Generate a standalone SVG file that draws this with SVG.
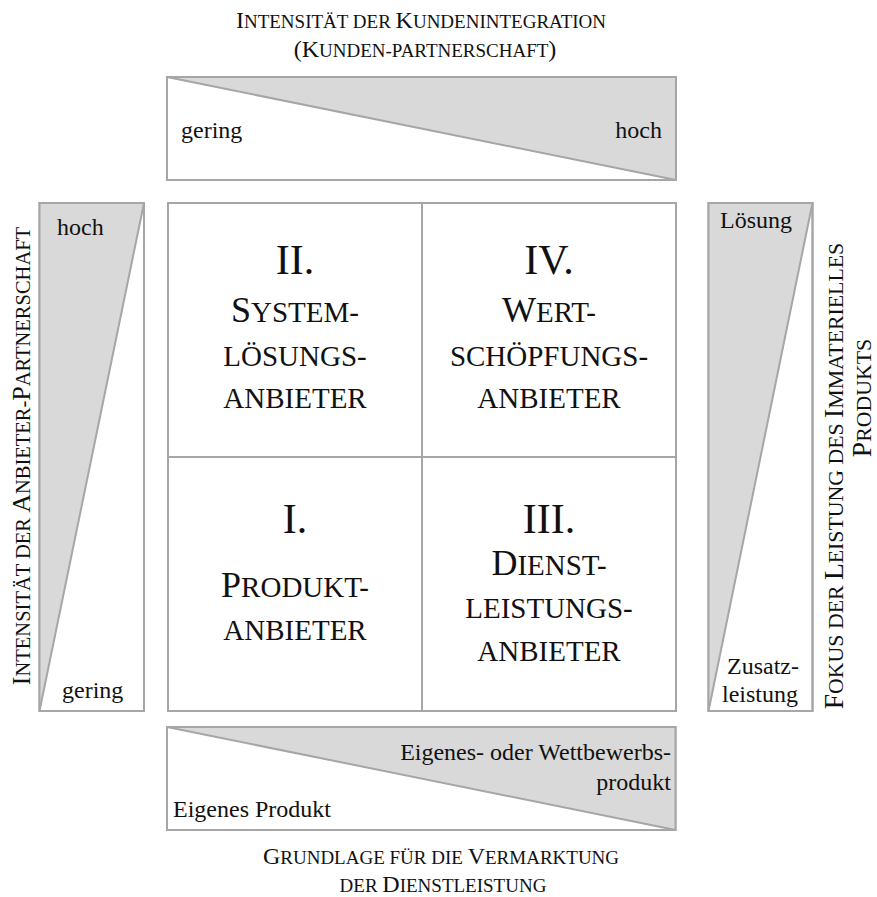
<svg xmlns="http://www.w3.org/2000/svg" width="877" height="897" viewBox="0 0 877 897">
<style>
text{font-family:"Liberation Serif","Times New Roman",serif;fill:#111}
.box{fill:#fff;stroke:#a6a6a6;stroke-width:2}
.frame{fill:none;stroke:#a6a6a6;stroke-width:2}
.tri{fill:#d9d9d9;stroke:none}
.diag{stroke:#a6a6a6;stroke-width:2;fill:none}
.grid{stroke:#a6a6a6;stroke-width:2;fill:none}
.lbl{font-size:24px}
.t{font-size:24px}
.t .s{font-size:19px}
.v{font-size:26px}
.v .s{font-size:20.5px}
.vr{font-size:27.5px}
.vr .s{font-size:21.8px}
.c{font-size:36px;text-anchor:middle}
.c .s{font-size:29px}
.num{font-size:42px;text-anchor:middle}
</style>
<rect width="877" height="897" fill="#fff"/>

<g id="title-top">
<text class="t" x="421" y="28" text-anchor="middle">I<tspan class="s">NTENSITÄT DER </tspan>K<tspan class="s">UNDENINTEGRATION</tspan></text>
<text class="t" x="425" y="57" text-anchor="middle">(K<tspan class="s">UNDEN-PARTNERSCHAFT</tspan>)</text>
</g>

<g id="axis-top">
<rect class="box" x="167" y="77" width="509" height="103"/>
<polygon class="tri" points="167,77 676,77 676,180"/>
<line class="diag" x1="167" y1="77" x2="676" y2="180"/>
<rect class="frame" x="167" y="77" width="509" height="103"/>
<text class="lbl" x="181" y="138">gering</text>
<text class="lbl" x="662" y="138" text-anchor="end">hoch</text>
</g>

<g id="axis-left">
<rect class="box" x="39.5" y="203" width="104.5" height="508"/>
<polygon class="tri" points="39.5,203 144,203 39.5,711"/>
<line class="diag" x1="144" y1="203" x2="39.5" y2="711"/>
<rect class="frame" x="39.5" y="203" width="104.5" height="508"/>
<text class="lbl" x="57" y="235">hoch</text>
<text class="lbl" x="62" y="698">gering</text>
</g>

<g id="title-left">
<text class="v" transform="translate(30,456) rotate(-90)" text-anchor="middle">I<tspan class="s">NTENSITÄT DER </tspan>A<tspan class="s">NBIETER-</tspan>P<tspan class="s">ARTNERSCHAFT</tspan></text>
</g>

<g id="axis-right">
<rect class="box" x="708.5" y="203" width="104" height="508"/>
<polygon class="tri" points="708.5,203 812.5,203 708.5,711"/>
<line class="diag" x1="812.5" y1="203" x2="708.5" y2="711"/>
<rect class="frame" x="708.5" y="203" width="104" height="508"/>
<text class="lbl" x="720" y="228">Lösung</text>
<text class="lbl" x="727" y="674">Zusatz-</text>
<text class="lbl" x="722" y="702">leistung</text>
</g>

<g id="title-right">
<text class="vr" transform="translate(843,476) rotate(-90)" text-anchor="middle">F<tspan class="s">OKUS DER </tspan>L<tspan class="s">EISTUNG DES </tspan>I<tspan class="s">MMATERIELLES</tspan></text>
<text class="vr" transform="translate(871,398) rotate(-90)" text-anchor="middle">P<tspan class="s">RODUKTS</tspan></text>
</g>

<g id="axis-bottom">
<rect class="box" x="167" y="727" width="508.5" height="103"/>
<polygon class="tri" points="167,727 675.5,727 675.5,830"/>
<line class="diag" x1="167" y1="727" x2="675.5" y2="830"/>
<rect class="frame" x="167" y="727" width="508.5" height="103"/>
<text class="lbl" x="671" y="760" text-anchor="end">Eigenes-  oder Wettbewerbs-</text>
<text class="lbl" x="671" y="790" text-anchor="end">produkt</text>
<text class="lbl" x="173" y="817">Eigenes Produkt</text>
</g>

<g id="title-bottom">
<text class="t" x="441" y="864" text-anchor="middle">G<tspan class="s">RUNDLAGE  FÜR  DIE </tspan>V<tspan class="s">ERMARKTUNG</tspan></text>
<text class="t" x="443" y="892" text-anchor="middle"><tspan class="s">DER </tspan>D<tspan class="s">IENSTLEISTUNG</tspan></text>
</g>

<g id="grid">
<rect class="box" x="168" y="203" width="508" height="508"/>
<line class="grid" x1="422" y1="203" x2="422" y2="711"/>
<line class="grid" x1="168" y1="457" x2="676" y2="457"/>
</g>

<g id="cell-II">
<text class="num" x="295" y="274">II.</text>
<text class="c" x="295" y="322">S<tspan class="s">YSTEM-</tspan></text>
<text class="c" x="295" y="366"><tspan class="s">LÖSUNGS-</tspan></text>
<text class="c" x="295" y="408"><tspan class="s">ANBIETER</tspan></text>
</g>

<g id="cell-IV">
<text class="num" x="549" y="274">IV.</text>
<text class="c" x="549" y="322">W<tspan class="s">ERT-</tspan></text>
<text class="c" x="549" y="366"><tspan class="s">SCHÖPFUNGS-</tspan></text>
<text class="c" x="549" y="408"><tspan class="s">ANBIETER</tspan></text>
</g>

<g id="cell-I">
<text class="num" x="295" y="533">I.</text>
<text class="c" x="295" y="597">P<tspan class="s">RODUKT-</tspan></text>
<text class="c" x="295" y="640"><tspan class="s">ANBIETER</tspan></text>
</g>

<g id="cell-III">
<text class="num" x="549" y="533">III.</text>
<text class="c" x="549" y="575">D<tspan class="s">IENST-</tspan></text>
<text class="c" x="549" y="618"><tspan class="s">LEISTUNGS-</tspan></text>
<text class="c" x="549" y="661"><tspan class="s">ANBIETER</tspan></text>
</g>
</svg>
